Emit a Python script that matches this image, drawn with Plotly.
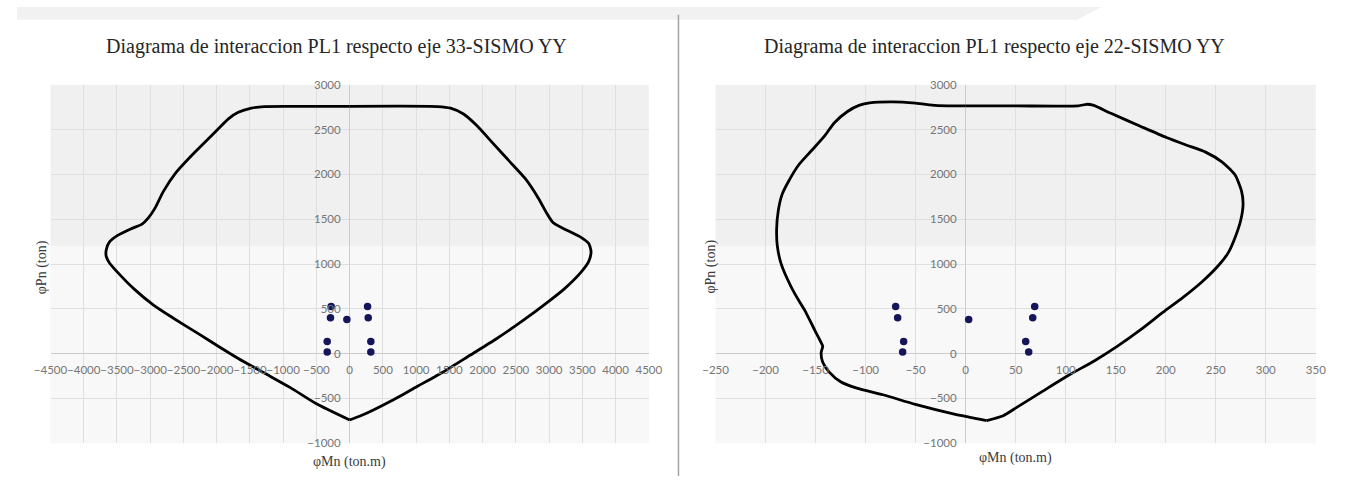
import plotly.graph_objects as go

# ---------------- data ----------------
# Interaction diagram, axis 33 (phiMn in ton.m, phiPn in ton)
m33_curve = [0, 700, 1321, 1517, 1712, 1908, 2153, 2397, 2642, 2838, 2960, 3058, 3229, 3474,
             3596, 3630, 3596, 3474, 3229, 2984, 2593, 2202, 1810, 1419, 1027, 636, 245, 0,
             -500, -892, -1284, -1676, -1971, -2265, -2657, -2951, -3245, -3441, -3613, -3662,
             -3662, -3613, -3490, -3294, -3123, -3025, -2926, -2804, -2608, -2363, -2069, -1824,
             -1676, -1480, -1284, -700, 0]
p33_curve = [2760, 2762, 2758, 2740, 2675, 2549, 2350, 2151, 1952, 1735, 1573, 1464, 1392, 1301,
             1229, 1139, 1030, 904, 723, 578, 362, 163, -18, -199, -362, -524, -669, -741,
             -560, -380, -217, -54, 80, 217, 398, 542, 723, 868, 1012, 1085,
             1157, 1247, 1320, 1392, 1446, 1518, 1627, 1808, 2025, 2223, 2440, 2621,
             2693, 2740, 2758, 2760, 2760]

# Interaction diagram, axis 22
m22_curve = [0, 50, 112.6, 120.8, 127.3, 145.2, 174.6, 200.7, 220.3, 239.8, 256.1, 269.2, 275.7,
             277.3, 275, 269.8, 262.7, 252.9, 236.6, 217, 197.4, 174.6, 151.8, 128.9, 102.8,
             76.7, 50.7, 37.6, 21, -11.4, -50.3, -82.8, -108.8, -125, -136.4, -142.9, -144.5,
             -142.9, -146, -152.6, -160.7, -170.5, -178.6, -185, -188.3, -189, -187.3, -183.4,
             -177, -167, -154, -141, -131.5, -118.5, -106, -96, -73, -50, -30, -18, 0]
p22_curve = [2765, 2765, 2765, 2783, 2773, 2682, 2538, 2412, 2329, 2249, 2141, 1996, 1816,
             1671, 1491, 1310, 1130, 986, 805, 625, 462, 264, 83, -79, -242,
             -422, -603, -693, -747, -675, -567, -459, -386, -314, -206, -97, 11,
             83, 155, 300, 480, 661, 841, 1022, 1202, 1383, 1599, 1780,
             1924, 2105, 2267, 2430, 2574, 2700, 2773, 2798, 2809, 2795, 2770, 2765, 2765]

# Demand points (load combinations, SISMO YY)
pu_points = [380, 525, 525, 400, 400, 135, 135, 18, 18]
mu33_points = [-42, -279, 269, -289, 279, -338, 318, -338, 318]
mu22_points = [3, -70, 69, -68, 67, -62, 60, -63, 63]

title_33 = "Diagrama de interaccion PL1 respecto eje 33-SISMO YY"
title_22 = "Diagrama de interaccion PL1 respecto eje 22-SISMO YY"
x_title = "φMn (ton.m)"
y_title = "φPn (ton)"

x33_range = [-4500, 4500]
x22_range = [-250, 350]
y_range = [-1000, 3000]

# ---------------- layout geometry (pixels -> paper) ----------------
W, H = 1351, 482
def px(x): return x / W
def py(y): return 1 - y / H

xd_left = [px(34.3), px(646.7)]
xd_right = [px(715), px(1329.3)]
yd = [py(448.3), py(80)]

def frac(v, r): return (v - r[0]) / (r[1] - r[0])
def pos_in(dom, f): return dom[0] + f * (dom[1] - dom[0])

y0_pos = pos_in(yd, frac(0, y_range))
x0_left = pos_in(xd_left, frac(0, x33_range))
x0_right = pos_in(xd_right, frac(0, x22_range))

curve_color = "#000000"
pt_color = "#15155a"
grid_color = "#dfdfdf"
zero_color = "#cccccc"
tick_font = dict(family="Lato", size=11.5, color="#767676")

fig = go.Figure()

def add_curve(m, p, xa, ya):
    # split at the tension tip so the sharp corner is kept while the rest is smoothed
    tip = p.index(min(p))
    for a, b in ((0, tip + 1), (tip, len(p))):
        fig.add_trace(go.Scatter(x=m[a:b], y=p[a:b], mode="lines",
                                 line=dict(color=curve_color, width=2.8, shape="spline", smoothing=0.6),
                                 xaxis=xa, yaxis=ya, hoverinfo="skip"))

add_curve(m33_curve, p33_curve, "x", "y")
fig.add_trace(go.Scatter(x=mu33_points, y=pu_points, mode="markers",
                         marker=dict(color=pt_color, size=7.5), xaxis="x", yaxis="y"))
add_curve(m22_curve, p22_curve, "x2", "y2")
fig.add_trace(go.Scatter(x=mu22_points, y=pu_points, mode="markers",
                         marker=dict(color=pt_color, size=7.5), xaxis="x2", yaxis="y2"))

def xaxis(dom, rng, dt):
    return dict(domain=dom, range=rng, dtick=dt, tick0=0, anchor="free", position=y0_pos,
                showgrid=True, gridcolor=grid_color, gridwidth=1, zeroline=True,
                zerolinecolor=zero_color, zerolinewidth=1, showline=False, ticks="",
                tickangle=0, ticklabelstandoff=8, tickfont=tick_font, fixedrange=True)

def yaxis(dom, pos):
    return dict(domain=dom, range=y_range, dtick=500, tick0=0, anchor="free", position=pos,
                showgrid=True, gridcolor=grid_color, gridwidth=1, zeroline=True,
                zerolinecolor=zero_color, zerolinewidth=1, showline=False, ticks="",
                ticklabelstandoff=9, tickfont=tick_font, fixedrange=True)

ann_title = dict(family="Liberation Serif", size=20, color="#262626")
ann_axis = dict(family="Liberation Serif", size=14, color="#3a3a3a")

annotations = [
    dict(text=title_33, x=px(327.5), y=py(41), xref="paper", yref="paper",
         showarrow=False, font=ann_title, xanchor="center", yanchor="middle"),
    dict(text=title_22, x=px(1000), y=py(41), xref="paper", yref="paper",
         showarrow=False, font=ann_title, xanchor="center", yanchor="middle"),
    dict(text=x_title, x=(xd_left[0] + xd_left[1]) / 2, y=py(468), xref="paper", yref="paper",
         showarrow=False, font=ann_axis, xanchor="center", yanchor="middle"),
    dict(text=x_title, x=(xd_right[0] + xd_right[1]) / 2, y=py(463), xref="paper", yref="paper",
         showarrow=False, font=ann_axis, xanchor="center", yanchor="middle"),
    dict(text=y_title, x=px(25), y=py(267), xref="paper", yref="paper", textangle=-90,
         showarrow=False, font=ann_axis, xanchor="center", yanchor="middle"),
    dict(text=y_title, x=px(710), y=py(267), xref="paper", yref="paper", textangle=-90,
         showarrow=False, font=ann_axis, xanchor="center", yanchor="middle"),
]

shapes = [
    # separator between the two charts
    dict(type="line", xref="paper", yref="paper", x0=px(677), x1=px(677), y0=py(8), y1=0,
         line=dict(color="#a3a3a3", width=1.5)),
    # faint watermark band at the top
    dict(type="path", xref="paper", yref="paper",
         path=f"M 0 1 L {px(1110)} 1 L {px(1085)} {py(13)} L 0 {py(13)} Z",
         fillcolor="#f1f1f1", line=dict(width=0), layer="below"),
    # lighter lower band over both plot areas (scan artefact)
    dict(type="rect", xref="x domain", yref="paper", x0=0, x1=1, y0=yd[0], y1=py(245.7),
         fillcolor="rgba(255,255,255,0.55)", line=dict(width=0), layer="between"),
    dict(type="rect", xref="x2 domain", yref="paper", x0=0, x1=1, y0=yd[0], y1=py(245.7),
         fillcolor="rgba(255,255,255,0.55)", line=dict(width=0), layer="between"),
]

fig.update_layout(
    width=W, height=H, margin=dict(l=0, r=0, t=0, b=0),
    paper_bgcolor="white", plot_bgcolor="#f0f0f0", showlegend=False,
    xaxis=xaxis(xd_left, x33_range, 500),
    yaxis=yaxis(yd, x0_left),
    xaxis2=xaxis(xd_right, x22_range, 50),
    yaxis2=yaxis(yd, x0_right),
    annotations=annotations, shapes=shapes,
)

post = ("document.body.style.margin='0';document.body.style.padding='0';"
        "document.body.style.overflow='hidden';"
        "var d=document.getElementById('{plot_id}');"
        "d.style.position='fixed';d.style.left='0px';d.style.top='0px';")

fig.write_html("out.html", post_script=post, config={"displayModeBar": False})
